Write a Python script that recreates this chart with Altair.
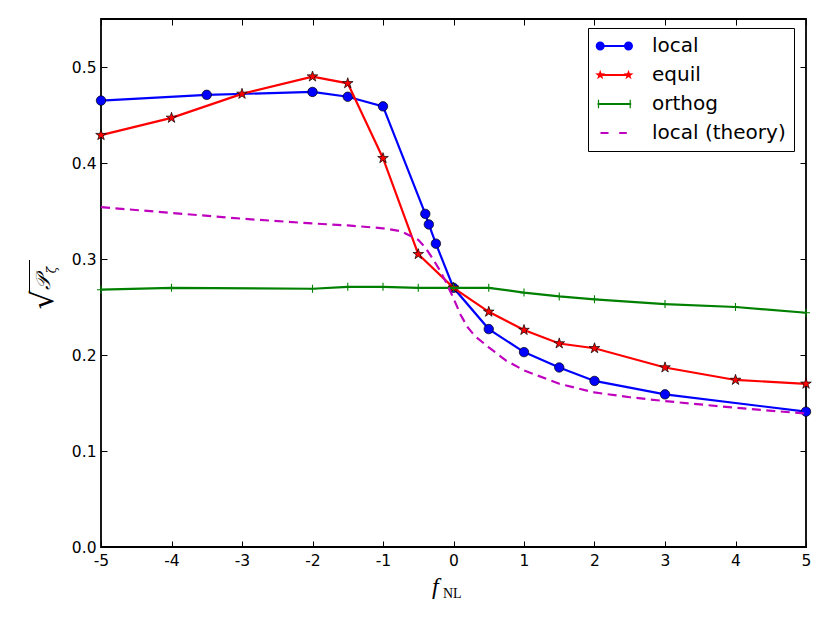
import math
import altair as alt
import pandas as pd

# ---------------- data ----------------
fnl_local = [-5, -3.5, -2, -1.5, -1, -0.4, -0.35, -0.25, 0, 0.5, 1, 1.5, 2, 3, 5]
p_local = [0.465, 0.471, 0.474, 0.469, 0.459, 0.347, 0.336, 0.316, 0.270,
           0.227, 0.203, 0.187, 0.173, 0.159, 0.141]

fnl_equil = [-5, -4, -3, -2, -1.5, -1, -0.5, 0, 0.5, 1, 1.5, 2, 3, 4, 5]
p_equil = [0.429, 0.447, 0.472, 0.490, 0.483, 0.405, 0.305, 0.270,
           0.245, 0.226, 0.212, 0.207, 0.187, 0.174, 0.170]

fnl_orthog = [-5, -4, -2, -1.5, -1, -0.5, 0, 0.5, 1, 1.5, 2, 3, 4, 5]
p_orthog = [0.268, 0.270, 0.269, 0.271, 0.271, 0.270, 0.270,
            0.270, 0.265, 0.261, 0.258, 0.253, 0.250, 0.244]

fnl_theory = [-5, -4, -3, -2, -1.5, -1, -0.75, -0.5, -0.4, -0.3, -0.2, -0.1, 0,
              0.1, 0.2, 0.3, 0.5, 0.75, 1, 1.5, 2, 2.5, 3, 4, 5]
p_theory = [0.354, 0.348, 0.342, 0.337, 0.335, 0.332, 0.329, 0.320, 0.312, 0.301,
            0.289, 0.275, 0.259, 0.242, 0.229, 0.220, 0.208, 0.194, 0.184, 0.170,
            0.161, 0.156, 0.152, 0.145, 0.139]

series_names = ["local", "equil", "orthog", "local (theory)"]
series_colors = ["#0000ff", "#ff0000", "#008000", "#bf00bf"]

x_ticks = [-5, -4, -3, -2, -1, 0, 1, 2, 3, 4, 5]
y_ticks = [0.0, 0.1, 0.2, 0.3, 0.4, 0.5]


def frame(xs, ys, name):
    return pd.DataFrame({"fnl": xs, "p": ys, "series": name})


df_local = frame(fnl_local, p_local, "local")
df_equil = frame(fnl_equil, p_equil, "equil")
df_orthog = frame(fnl_orthog, p_orthog, "orthog")
df_theory = frame(fnl_theory, p_theory, "local (theory)")


# ---------------- marker shapes ----------------
def star_path(cx, cy, R, rin):
    pts = []
    for k in range(10):
        a = -math.pi / 2 + k * math.pi / 5
        r = R if k % 2 == 0 else rin
        pts.append(f"{cx + r * math.cos(a):.4f},{cy + r * math.sin(a):.4f}")
    return "M" + "L".join(pts) + "Z"


def circle_path(cx, cy, r):
    return (f"M{cx - r:.4f},{cy:.4f}A{r},{r} 0 1,1 {cx + r:.4f},{cy:.4f}"
            f"A{r},{r} 0 1,1 {cx - r:.4f},{cy:.4f}Z")


def rect_path(x0, x1, y0, y1):
    return f"M{x0},{y0}L{x1},{y0}L{x1},{y1}L{x0},{y1}Z"


STAR = star_path(0, 0, 1, 0.382)
PLUS = "M-1,0L1,0M0,-1L0,1"

# legend glyphs (1 unit = 10 px, symbol anchor 10 px from entry's left edge)
h = 0.1
c0, c1 = -0.58, 2.25
leg_local = (rect_path(c0 + 0.4, c1 - 0.4, -h, h) + circle_path(c0, 0, 0.45)
             + circle_path(c1, 0, 0.45))
leg_equil = (rect_path(c0, c1, -h, h) + star_path(c0, 0, 0.52, 0.21)
             + star_path(c1, 0, 0.52, 0.21))
leg_orthog = (rect_path(-0.85, 2.52, -h, h) + rect_path(-0.81, -0.69, -0.42, 0.42)
              + rect_path(2.36, 2.48, -0.42, 0.42))
leg_theory = rect_path(-0.55, 0.25, -h, h) + rect_path(1.32, 2.08, -h, h)
legend_paths = [leg_local, leg_equil, leg_orthog, leg_theory]

# ---------------- scales & axes ----------------
x_scale = alt.Scale(domain=[-5, 5], nice=False, zero=False)
y_scale = alt.Scale(domain=[0, 0.55], nice=False, zero=False)

common = dict(domain=False, grid=False, ticks=True, tickSize=6, tickColor="black",
              tickWidth=1, offset=-6, title=None, labelFont="DejaVu Sans",
              labelFontSize=15.5, labelColor="black", labelFlush=False)

ax_bottom = alt.Axis(orient="bottom", values=x_ticks, labelExpr="toString(datum.value)",
                     labelPadding=6, **common)
ax_top = alt.Axis(orient="top", values=x_ticks, labels=False, **common)
ax_left = alt.Axis(orient="left", values=y_ticks, format=".1f", labelPadding=5, **common)
ax_right = alt.Axis(orient="right", values=y_ticks, labels=False, **common)


def enc(ax_x=None, ax_y=None):
    return dict(
        x=alt.X("fnl:Q", scale=x_scale, axis=ax_x),
        y=alt.Y("p:Q", scale=y_scale, axis=ax_y),
    )


LW = 2.2
line_local = alt.Chart(df_local).mark_line(color=series_colors[0], strokeWidth=LW).encode(
    **enc(ax_bottom, ax_left))
pts_local = alt.Chart(df_local).mark_point(
    shape="circle", filled=True, fill=series_colors[0], stroke="black", strokeWidth=0.7,
    size=90, opacity=1).encode(**enc(ax_top, ax_right))

line_equil = alt.Chart(df_equil).mark_line(color=series_colors[1], strokeWidth=LW).encode(**enc())
pts_equil = alt.Chart(df_equil).mark_point(
    shape=STAR, filled=True, fill=series_colors[1], stroke="black", strokeWidth=0.7,
    size=125, opacity=1).encode(**enc())

line_orthog = alt.Chart(df_orthog).mark_line(color=series_colors[2], strokeWidth=LW).encode(**enc())
pts_orthog = alt.Chart(df_orthog).mark_point(
    shape=PLUS, filled=False, stroke=series_colors[2], strokeWidth=1.1,
    size=64, opacity=1).encode(**enc())

line_theory = alt.Chart(df_theory).mark_line(
    color=series_colors[3], strokeWidth=LW, strokeDash=[9, 5.5]).encode(**enc())

legend = alt.Legend(title=None, orient="none", legendX=487, legendY=9)
legend_layer = alt.Chart(pd.concat([df_local, df_equil, df_orthog, df_theory])).transform_filter(
    "false").mark_point(filled=True, opacity=1).encode(
    **enc(),
    color=alt.Color("series:N", scale=alt.Scale(domain=series_names, range=series_colors),
                    legend=legend),
    shape=alt.Shape("series:N", scale=alt.Scale(domain=series_names, range=legend_paths),
                    legend=legend),
)

# ---------------- axis titles ----------------
one = pd.DataFrame({"k": [0]})
t_f = alt.Chart(one).mark_text(text="f", font="Liberation Serif", fontStyle="italic",
                               fontSize=24, align="left", baseline="alphabetic",
                               color="black").encode(x=alt.value(331), y=alt.value(575))
t_nl = alt.Chart(one).mark_text(text="NL", font="Liberation Serif", fontSize=14,
                                align="left", baseline="alphabetic",
                                color="black").encode(x=alt.value(342), y=alt.value(579))
t_sqrt = alt.Chart(one).mark_text(text="√", font="DejaVu Sans", fontSize=30, angle=270,
                                  align="center", baseline="middle",
                                  color="black").encode(x=alt.value(-57), y=alt.value(281))
t_bar = alt.Chart(one).mark_rule(color="black", strokeWidth=1).encode(
    x=alt.value(-71.5), y=alt.value(241), y2=alt.value(274))
t_p = alt.Chart(one).mark_text(text="𝒫", font="DejaVu Serif", fontStyle="italic",
                               fontSize=20, angle=270, align="center", baseline="middle",
                               color="black").encode(x=alt.value(-57), y=alt.value(264))
t_z = alt.Chart(one).mark_text(text="ζ", font="DejaVu Serif", fontStyle="italic",
                               fontSize=12, angle=270, align="center", baseline="middle",
                               color="black").encode(x=alt.value(-49), y=alt.value(251))

chart = alt.layer(
    line_local, pts_local, line_equil, pts_equil, line_orthog, pts_orthog, line_theory,
    legend_layer, t_f, t_nl, t_sqrt, t_bar, t_p, t_z,
).resolve_axis(x="independent", y="independent").properties(
    width=705, height=528,
    autosize=alt.AutoSizeParams(type="none"),
    padding={"left": 93, "top": 11, "right": 16, "bottom": 60},
).configure_view(
    stroke="black", strokeWidth=1.8,
).configure_legend(
    labelFont="DejaVu Sans", labelFontSize=20, labelColor="black", labelLimit=400,
    labelOffset=36, symbolSize=400, symbolStrokeWidth=0, padding=8, rowPadding=9,
    strokeColor="black", fillColor="white", cornerRadius=0, symbolOpacity=1,
)

chart.save("out.html", embed_options={"renderer": "svg", "actions": False})
